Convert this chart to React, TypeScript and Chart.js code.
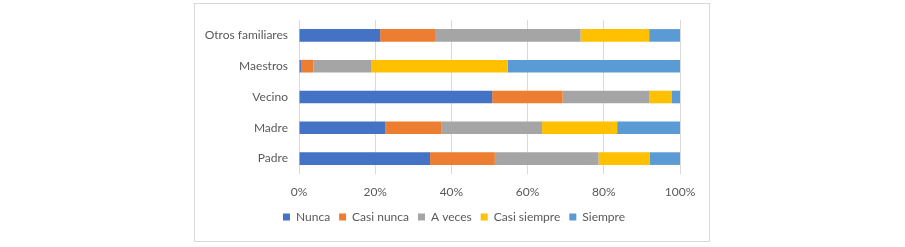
import React, { useEffect, useRef } from "react";
import Chart from "chart.js/auto";

const categories = ["Otros familiares", "Maestros", "Vecino", "Madre", "Padre"];
const nunca = [21.3, 0.5, 50.7, 22.6, 34.4];
const casiNunca = [14.4, 3.3, 18.5, 14.7, 17.0];
const aVeces = [38.2, 15.1, 22.8, 26.5, 27.2];
const casiSiempre = [18.0, 35.9, 5.9, 19.7, 13.4];
const siempre = [8.1, 45.2, 2.1, 16.5, 8.0];
const seriesNames = ["Nunca", "Casi nunca", "A veces", "Casi siempre", "Siempre"];
const seriesColors = ["#4472C4", "#ED7D31", "#A5A5A5", "#FFC000", "#5B9BD5"];
const xTicks = [0, 20, 40, 60, 80, 100];

// shifts the bottom legend so that it is centred in the whole frame
const legendShift = {
  id: "legendShift",
  afterLayout(chart: any) {
    const lg = chart.legend;
    if (!lg) return;
    const frameCenter = chart.width / 2 + 2;
    const cur = (lg.left + lg.right) / 2;
    const dx = frameCenter - cur;
    lg.left += dx;
    lg.right += dx;
  },
};

export default function App() {
  const ref = useRef<HTMLCanvasElement>(null);
  useEffect(() => {
    document.body.style.margin = "0";
    const values = [nunca, casiNunca, aVeces, casiSiempre, siempre];
    const font = { family: "Lato", size: 12 };
    const chart = new Chart(ref.current!, {
      type: "bar",
      data: {
        labels: categories,
        datasets: seriesNames.map((n, i) => ({
          label: n,
          data: values[i],
          backgroundColor: seriesColors[i],
          borderWidth: 0,
          barPercentage: 0.41,
          categoryPercentage: 1,
        })),
      },
      plugins: [legendShift],
      options: {
        indexAxis: "y",
        animation: false,
        responsive: false,
        maintainAspectRatio: false,
        layout: { padding: { top: 16, right: 29, bottom: 8, left: 0 } },
        plugins: {
          tooltip: { enabled: false },
          legend: {
            position: "bottom",
            labels: {
              boxWidth: 7,
              boxHeight: 7,
              padding: 9,
              color: "#595959",
              font,
            },
          },
        },
        scales: {
          x: {
            stacked: true,
            min: 0,
            max: 100,
            afterBuildTicks: (s: any) => {
              s.ticks = xTicks.map((v) => ({ value: v }));
            },
            afterFit: (s: any) => {
              s.height = 28;
            },
            ticks: {
              callback: (v: any) => v + "%",
              color: "#595959",
              font,
              padding: 11,
            },
            grid: { color: "#d9d9d9", drawTicks: false },
            border: { display: false },
          },
          y: {
            stacked: true,
            afterFit: (s: any) => {
              s.width = 104;
              s.paddingTop = 0;
              s.paddingBottom = 0;
            },
            ticks: { color: "#595959", font, padding: 11 },
            grid: { display: false, drawTicks: false },
            border: { display: false },
          },
        },
      },
    });
    return () => chart.destroy();
  }, []);
  return (
    <div style={{ position: "relative", width: 905, height: 247, background: "#fff" }}>
      <div
        style={{
          position: "absolute",
          left: 194,
          top: 3,
          width: 514,
          height: 237,
          border: "1px solid #d9d9d9",
        }}
      >
        <canvas ref={ref} width={514} height={237} style={{ display: "block" }} />
      </div>
    </div>
  );
}
